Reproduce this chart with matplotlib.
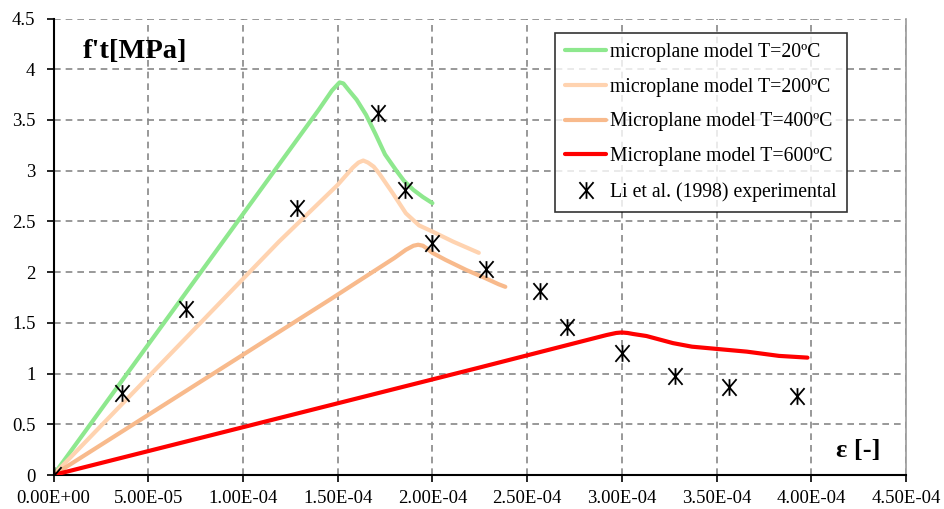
import matplotlib
matplotlib.use("Agg")
import matplotlib.pyplot as plt
from matplotlib.path import Path
import numpy as np

plt.rcParams['font.family'] = ['Liberation Serif', 'DejaVu Serif']

# Data (strain, stress MPa)
x_20 = [0, 1.40e-4, 1.47e-4, 1.51e-4, 1.53e-4, 1.56e-4, 1.60e-4, 1.65e-4, 1.70e-4, 1.75e-4,
        1.81e-4, 1.85e-4, 1.90e-4, 1.95e-4, 2.00e-4]
y_20 = [0, 3.60, 3.79, 3.87, 3.86, 3.79, 3.70, 3.55, 3.36, 3.16,
        3.00, 2.90, 2.81, 2.74, 2.68]

x_200 = [0, 1.19e-4, 1.50e-4, 1.58e-4, 1.61e-4, 1.635e-4, 1.66e-4, 1.69e-4, 1.72e-4, 1.79e-4,
         1.86e-4, 1.93e-4, 2.00e-4, 2.11e-4, 2.245e-4]
y_200 = [0, 2.30, 2.86, 3.03, 3.08, 3.10, 3.08, 3.04, 2.97, 2.78,
         2.58, 2.46, 2.40, 2.30, 2.19]

x_400 = [0, 1.46e-4, 1.80e-4, 1.86e-4, 1.90e-4, 1.925e-4, 1.95e-4, 1.97e-4, 2.00e-4, 2.07e-4,
         2.18e-4, 2.28e-4, 2.35e-4, 2.385e-4]
y_400 = [0, 1.73, 2.14, 2.22, 2.26, 2.27, 2.26, 2.235, 2.19, 2.12,
         2.02, 1.94, 1.88, 1.855]

x_600 = [0, 2.25e-4, 2.92e-4, 2.97e-4, 3.00e-4, 3.03e-4, 3.06e-4, 3.13e-4, 3.27e-4, 3.37e-4,
         3.50e-4, 3.66e-4, 3.83e-4, 3.98e-4]
y_600 = [0, 1.06, 1.38, 1.40, 1.405, 1.40, 1.39, 1.37, 1.30, 1.265,
         1.243, 1.216, 1.174, 1.157]

x_exp = [0, 3.63e-5, 7.0e-5, 1.286e-4, 1.713e-4, 1.857e-4, 2.0e-4, 2.285e-4, 2.566e-4, 2.71e-4,
         3.0e-4, 3.283e-4, 3.568e-4, 3.923e-4]
y_exp = [0, 0.806, 1.637, 2.636, 3.567, 2.81, 2.29, 2.03, 1.817, 1.457,
         1.20, 0.98, 0.871, 0.782]

labels = ["microplane model T=20ºC", "microplane model T=200ºC",
          "Microplane model T=400ºC", "Microplane model T=600ºC",
          "Li et al. (1998) experimental"]

x_ticks = np.arange(0, 4.5e-4 + 1e-9, 5e-5)
x_ticklabels = ["0.00E+00", "5.00E-05", "1.00E-04", "1.50E-04", "2.00E-04",
                "2.50E-04", "3.00E-04", "3.50E-04", "4.00E-04", "4.50E-04"]
y_ticks = np.arange(0, 4.5 + 1e-9, 0.5)
y_ticklabels = ["0", "0.5", "1", "1.5", "2", "2.5", "3", "3.5", "4", "4.5"]

fig = plt.figure(figsize=(9.44, 5.09), dpi=100)
ax = fig.add_axes([53.5/944, 1-475/509, (906-53.5)/944, (475-18.5)/509])

lw = 3.0
kw = dict(lw=lw, solid_capstyle='round', solid_joinstyle='round', zorder=3)
ax.plot(x_20, y_20, color='#8EE88E', label=labels[0], **kw)
ax.plot(x_200, y_200, color='#FFD3B0', label=labels[1], **kw)
ax.plot(x_400, y_400, color='#F8BA8C', label=labels[2], **kw)
ax.plot(x_600, y_600, color='#FF0000', label=labels[3], **kw)

verts = [(0, -1), (0, 1), (-0.85, -1), (0.85, 1), (-0.85, 1), (0.85, -1)]
codes = [Path.MOVETO, Path.LINETO] * 3
star = Path(verts, codes)
ax.plot(x_exp, y_exp, linestyle='none', marker=star, markersize=12, markeredgewidth=1.3,
        color='black', label=labels[4], zorder=4)

ax.set_xlim(0, 4.5e-4)
ax.set_ylim(0, 4.5)
ax.set_xticks(x_ticks)
ax.set_xticklabels(x_ticklabels)
ax.set_yticks(y_ticks)
ax.set_yticklabels(y_ticklabels)
ax.tick_params(axis='both', direction='out', length=5, width=1.2, labelsize=13.5, colors='black')
ax.tick_params(axis='x', pad=6)
ax.tick_params(axis='y', pad=8)

ax.grid(True, color='#888888', linestyle=(0, (4, 3)), linewidth=1.2, zorder=0)
ax.set_axisbelow(True)
for s in ['left', 'bottom']:
    ax.spines[s].set_color('black')
    ax.spines[s].set_linewidth(1.5)
ax.spines['top'].set_visible(False)
ax.spines['right'].set_color('#999999')
ax.spines['right'].set_linewidth(1.2)

ax.text(83/944, 1-52/509, "f't[MPa]", transform=fig.transFigure, fontsize=20.5,
        fontweight='bold', va='center', ha='left')
ax.text(881/944, 1-450/509, "ε [-]", transform=fig.transFigure, fontsize=19,
        fontweight='bold', va='center', ha='right')

leg = ax.legend(loc='upper left', bbox_to_anchor=(555/944, 1-33/509), bbox_transform=fig.transFigure,
                fontsize=14.2, frameon=True, fancybox=False, edgecolor='black',
                handlelength=2.1, handletextpad=0.2, labelspacing=0.8, borderpad=0.5,
                borderaxespad=0)
leg.get_frame().set_linewidth(1.2)

fig.savefig("out.png", dpi=100)
